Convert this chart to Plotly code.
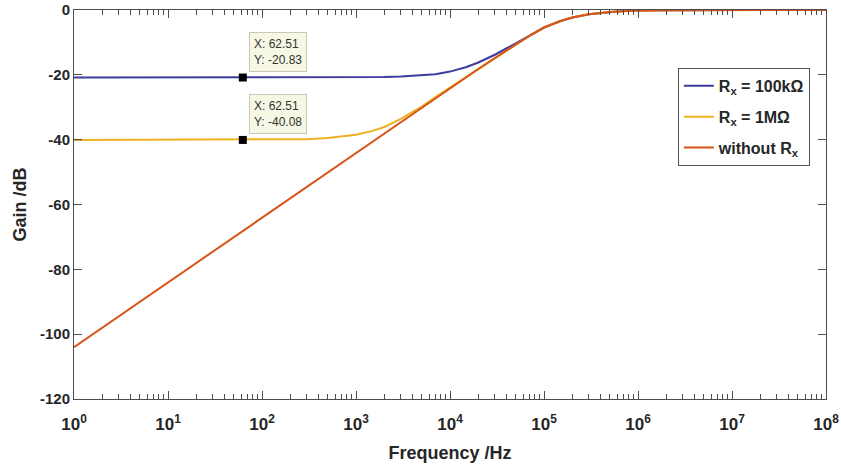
import math
import plotly.graph_objects as go

# Frequency points (Hz) shared by all three responses
freq = [1, 10, 62.51, 100, 200, 300, 500, 700, 1e3, 1.5e3, 2e3, 3e3, 5e3, 7e3,
        1e4, 1.5e4, 2e4, 3e4, 5e4, 7e4, 1e5, 1.5e5, 2e5, 3e5, 5e5, 7e5,
        1e6, 2e6, 1e7, 1e8]

# Gain (dB) with Rx = 100 kOhm
gain_100k = [-20.83, -20.83, -20.83, -20.83, -20.83, -20.82, -20.82, -20.81,
             -20.80, -20.76, -20.70, -20.55, -20.20, -19.80, -19.00, -17.60,
             -16.20, -13.80, -10.30, -7.90, -5.40, -3.40, -2.30, -1.30, -0.60,
             -0.30, -0.15, -0.04, 0.0, 0.0]

# Gain (dB) with Rx = 1 MOhm
gain_1M = [-40.08, -40.08, -40.08, -40.06, -39.95, -39.85, -39.50, -39.10,
           -38.50, -37.30, -36.10, -33.60, -29.80, -26.90, -23.95, -20.50,
           -18.10, -14.70, -10.55, -7.95, -5.40, -3.40, -2.30, -1.30, -0.60,
           -0.30, -0.15, -0.04, 0.0, 0.0]

# Gain (dB) without Rx
gain_none = [-104.0, -84.0, -68.1, -64.0, -58.0, -54.5, -50.0, -47.1, -44.0,
             -40.5, -38.0, -34.5, -30.0, -27.1, -24.1, -20.6, -18.2, -14.8,
             -10.6, -8.0, -5.4, -3.4, -2.3, -1.3, -0.6, -0.3, -0.15, -0.04,
             0.0, 0.0]

# Data tips
tip_x = [62.51, 62.51]
tip_y = [-20.83, -40.08]

x_tickvals = [10 ** k for k in range(0, 9)]
x_ticktext = [f"10<sup>{k}</sup>" for k in range(0, 9)]
x_minor = [m * 10 ** k for k in range(0, 8) for m in range(2, 10)]
y_tickvals = [0, -20, -40, -60, -80, -100, -120]
y_ticktext = [str(v) for v in y_tickvals]

axis_color = "#4d4d4d"
FONT = "Arial, Liberation Sans, sans-serif"
bold = dict(family=FONT, size=15, color="#262626", weight="bold")
bold_x = dict(family=FONT, size=17, color="#262626", weight="bold")
title_font = dict(family=FONT, size=18, color="#262626", weight="bold")

fig = go.Figure()

fig.add_trace(go.Scatter(x=freq, y=gain_100k, mode="lines",
                         name="R<sub>x</sub> = 100kΩ", legendgroup="a",
                         line=dict(color="#3d3d9e", width=2)))
fig.add_trace(go.Scatter(x=freq, y=gain_1M, mode="lines",
                         name="R<sub>x</sub> = 1MΩ", legendgroup="b",
                         line=dict(color="#EDB120", width=2)))
fig.add_trace(go.Scatter(x=freq, y=gain_none, mode="lines",
                         name="without R<sub>x</sub>", legendgroup="c",
                         line=dict(color="#D95319", width=2)))
fig.add_trace(go.Scatter(x=tip_x, y=tip_y, mode="markers", showlegend=False,
                         marker=dict(symbol="square", size=8, color="black")))

for tx, ty in zip(tip_x, tip_y):
    fig.add_annotation(x=math.log10(tx), y=ty, xref="x", yref="y",
                       text=f"X: {tx:.2f}<br>Y: {ty:.2f}", showarrow=False,
                       xanchor="left", yanchor="bottom", xshift=6, yshift=6,
                       align="left", bgcolor="#f7f7e6", bordercolor="#c8c8b4",
                       borderwidth=1, borderpad=4,
                       font=dict(family=FONT, size=12, color="#333333"))

fig.update_xaxes(type="log", range=[0, 8], tickmode="array",
                 tickvals=x_tickvals, ticktext=x_ticktext,
                 ticks="inside", ticklen=8, tickwidth=1.2,
                 tickcolor=axis_color, showline=True, linecolor=axis_color,
                 linewidth=1, mirror="ticks", showgrid=False, zeroline=False,
                 tickfont=bold_x, ticklabelstandoff=10, automargin=False,
                 minor=dict(tickmode="array", tickvals=x_minor,
                            ticks="inside", ticklen=5, tickwidth=1,
                            tickcolor=axis_color, showgrid=False),
                 title=dict(text="Frequency /Hz", font=title_font,
                            standoff=12))
fig.update_yaxes(range=[-120, 0], tickvals=y_tickvals, ticktext=y_ticktext,
                 ticks="inside", ticklen=8, tickwidth=1.2,
                 tickcolor=axis_color, showline=True, linecolor=axis_color,
                 linewidth=1, mirror="ticks", showgrid=False, zeroline=False,
                 tickfont=bold, automargin=False,
                 title=dict(text="Gain /dB", font=title_font, standoff=8))

fig.update_layout(
    width=841, height=464,
    margin=dict(l=74, r=15, t=10, b=65),
    plot_bgcolor="white", paper_bgcolor="white",
    legend=dict(x=0.803, y=0.851, xanchor="left", yanchor="top",
                bgcolor="white", bordercolor="#555555", borderwidth=1,
                font=dict(family=FONT, size=16, color="#262626",
                          weight="bold"),
                tracegroupgap=7, itemwidth=30),
)

fig.write_html("out.html")
